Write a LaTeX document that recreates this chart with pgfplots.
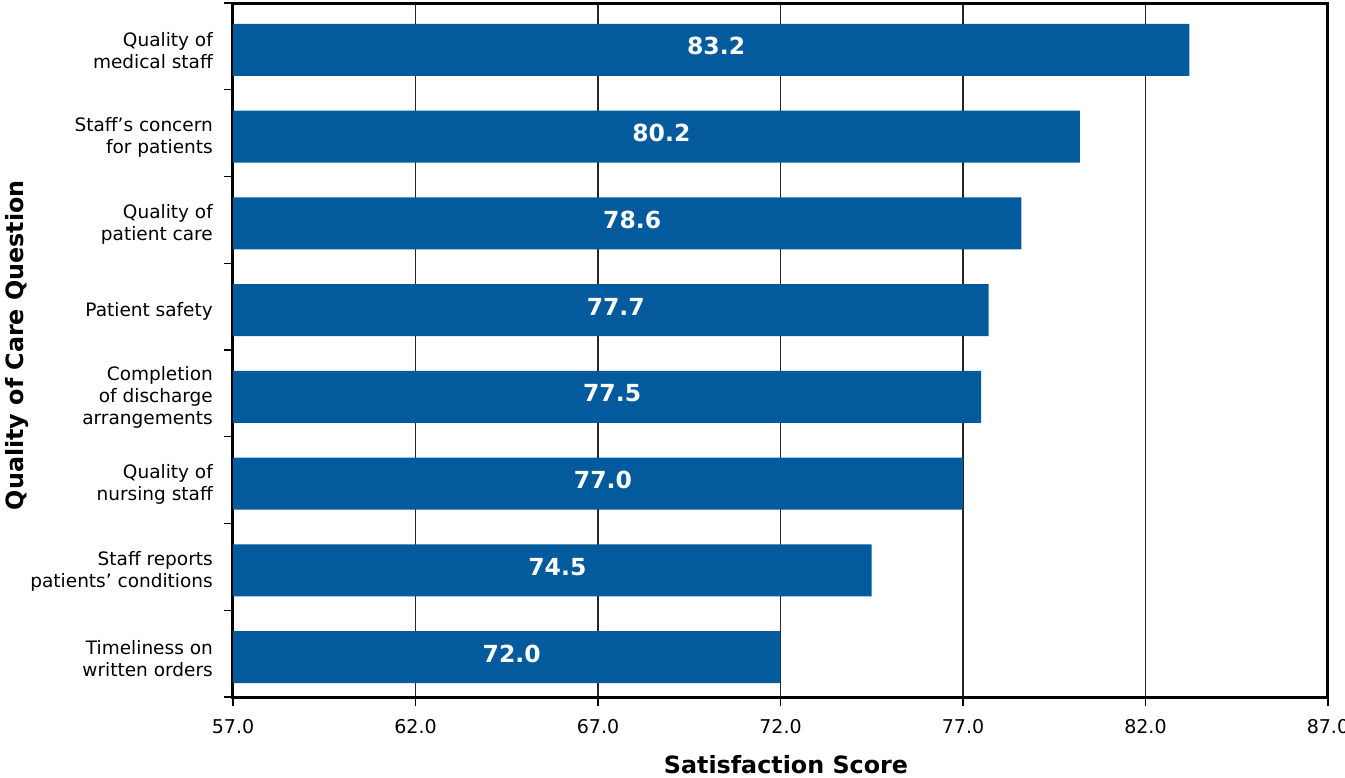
\documentclass[border=0pt]{standalone}
\usepackage{pgfplots}
\pgfplotsset{compat=1.18}
\usepackage{fontspec}
\setmainfont{DejaVu Sans}
\definecolor{barblue}{RGB}{3,90,157}

\begin{document}
\begin{tikzpicture}
\useasboundingbox (0,0) rectangle (1345pt,778pt);
\begin{axis}[
  at={(233pt,81pt)}, anchor=south west,
  scale only axis, width=1095pt, height=694pt,
  /pgf/number format/assume math mode=true,
  xbar, bar width=52pt, bar shift=-3.5pt,
  xmin=57, xmax=87, ymin=0.5, ymax=8.5,
  y dir=reverse,
  axis line style={line width=3pt},
  xtick={57,62,...,87},
  xticklabel={\pgfmathprintnumber[fixed,fixed zerofill,precision=1]{\tick}},
  xticklabel style={font=\fontsize{19}{22}\selectfont, inner sep=0pt, yshift=-13pt},
  xtick pos=lower, ytick pos=left,
  tick align=outside,
  major tick length=9pt,
  tick style={black, line width=1.2pt},
  xmajorgrids,
  major grid style={black!85, line width=1.2pt},
  ytick={0.5,1.5,...,8.5},
  yticklabels={},
  extra y ticks={1,...,8},
  extra y tick labels={
    {Quality of\\medical staff},
    {Staff’s concern\\for patients},
    {Quality of\\patient care},
    {Patient safety},
    {Completion\\of discharge\\arrangements},
    {Quality of\\nursing staff},
    {Staff reports\\patients’ conditions},
    {Timeliness on\\written orders}},
  extra y tick style={major tick length=0pt, grid=none,
    yticklabel style={align=right, inner sep=0pt, xshift=-20pt, yshift=-4.5pt,
      font=\fontsize{18.5}{22}\selectfont}},
  xlabel={Satisfaction Score},
  ylabel={Quality of Care Question},
  xlabel style={at={(axis description cs:0.505,-0.098)}, anchor=center,
    font=\fontsize{23.8}{28}\selectfont\bfseries},
  ylabel style={at={(axis description cs:-0.197,0.507)}, anchor=center,
    font=\fontsize{23.8}{28}\selectfont\bfseries},
]
\addplot[
  fill=barblue, draw=none,
  point meta=rawx,
  visualization depends on={rawx \as \rawx},
  nodes near coords={\pgfmathprintnumber[fixed,fixed zerofill,precision=1]{\pgfplotspointmeta}},
  nodes near coords align={center},
  every node near coord/.append style={anchor=center, text=white,
    font=\fontsize{23.5}{28}\selectfont\bfseries,
    xshift={-(\rawx-57)*18.25pt+5pt}, yshift=3.5pt},
] coordinates {
  (83.2,1) (80.2,2) (78.6,3) (77.7,4) (77.5,5) (77.0,6) (74.5,7) (72.0,8)
};
\end{axis}
\end{tikzpicture}
\end{document}
